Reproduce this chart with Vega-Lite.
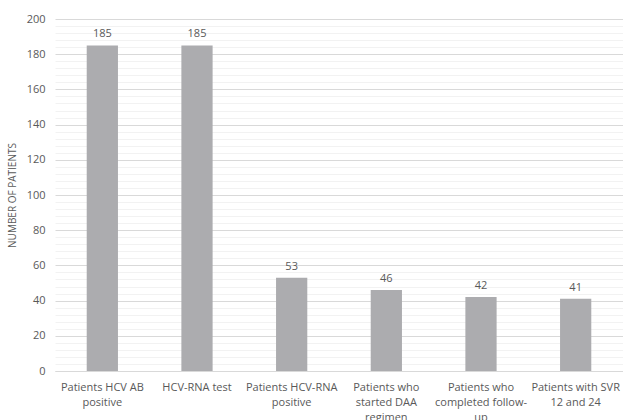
{
  "$schema": "https://vega.github.io/schema/vega-lite/v6.json",
  "width": 568,
  "height": 352,
  "autosize": {"type": "none"},
  "padding": {"left": 55, "top": 19, "right": 0, "bottom": 49},
  "background": "white",
  "config": {
    "view": {"stroke": null},
    "font": "Open Sans",
    "axis": {"labelFont": "Open Sans", "titleFont": "Open Sans"}
  },
  "data": {
    "values": [
      {"stage": "Patients HCV AB|positive", "patients": 185},
      {"stage": "HCV-RNA test", "patients": 185},
      {"stage": "Patients  HCV-RNA|positive", "patients": 53},
      {"stage": "Patients who|started DAA|regimen", "patients": 46},
      {"stage": "Patients who|completed follow-|up", "patients": 42},
      {"stage": "Patients with  SVR|12 and 24", "patients": 41}
    ]
  },
  "encoding": {
    "x": {
      "field": "stage",
      "type": "nominal",
      "sort": null,
      "scale": {"paddingInner": 0.67, "paddingOuter": 0.335},
      "axis": {
        "title": null,
        "labelAngle": 0,
        "labelExpr": "split(datum.label, '|')",
        "labelFontSize": 11,
        "labelColor": "#595959",
        "labelPadding": 10,
        "labelLineHeight": 15,
        "labelLimit": 200,
        "ticks": false,
        "domainColor": "#d9d9d9",
        "domainWidth": 1
      }
    },
    "y": {
      "field": "patients",
      "type": "quantitative",
      "scale": {"domain": [0, 200], "nice": false}
    }
  },
  "layer": [
    {
      "mark": {"type": "bar", "color": "#acacaf"},
      "encoding": {
        "y": {
          "field": "patients",
          "type": "quantitative",
          "axis": {
            "orient": "right",
            "values": [4,8,12,16,24,28,32,36,44,48,52,56,64,68,72,76,84,88,92,96,104,108,112,116,124,128,132,136,144,148,152,156,164,168,172,176,184,188,192,196],
            "grid": true,
            "gridColor": "#f2f2f2",
            "gridWidth": 1,
            "labels": false,
            "ticks": false,
            "domain": false,
            "title": null
          }
        }
      }
    },
    {
      "mark": {"type": "text", "dy": -11, "fontSize": 11, "color": "#595959", "font": "Open Sans"},
      "encoding": {
        "text": {"field": "patients", "type": "quantitative"},
        "y": {
          "field": "patients",
          "type": "quantitative",
          "axis": {
            "orient": "left",
            "values": [0,20,40,60,80,100,120,140,160,180,200],
            "grid": true,
            "gridColor": "#d9d9d9",
            "gridWidth": 1,
            "ticks": false,
            "domain": false,
            "labelFontSize": 11,
            "labelColor": "#595959",
            "labelPadding": 10,
            "title": "NUMBER OF PATIENTS",
            "titleFontSize": 10,
            "titleFontWeight": "normal",
            "titleColor": "#595959",
            "titlePadding": 9
          }
        }
      }
    }
  ],
  "resolve": {"axis": {"y": "independent"}}
}
